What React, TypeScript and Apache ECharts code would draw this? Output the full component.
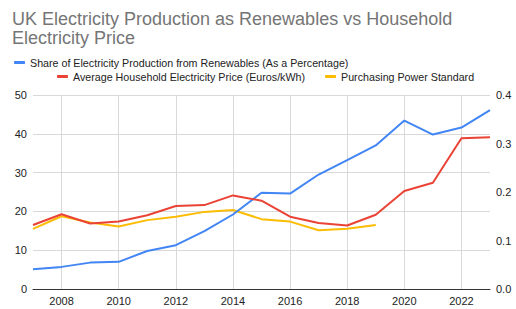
import React, { useEffect, useRef } from "react";
import * as echarts from "echarts";

const years = ["2007","2008","2009","2010","2011","2012","2013","2014","2015","2016","2017","2018","2019","2020","2021","2022","2023"];
const renewables = [5.1, 5.7, 6.8, 7.0, 9.8, 11.3, 14.9, 19.2, 24.8, 24.6, 29.5, 33.2, 37.0, 43.4, 39.8, 41.6, 46.1];
const price = [0.132, 0.154, 0.135, 0.139, 0.152, 0.171, 0.173, 0.193, 0.182, 0.149, 0.136, 0.131, 0.153, 0.202, 0.219, 0.311, 0.313];
const pps = [0.124, 0.150, 0.137, 0.129, 0.142, 0.149, 0.159, 0.163, 0.144, 0.139, 0.121, 0.124, 0.132, null, null, null, null];

const nameBlue = "Share of Electricity Production from Renewables (As a Percentage)";
const nameRed = "Average Household Electricity Price (Euros/kWh)";
const nameYellow = "Purchasing Power Standard";

export default function App() {
  const ref = useRef<HTMLDivElement>(null);
  useEffect(() => {
    const chart = echarts.init(ref.current!, null, { renderer: "svg" });
    const font = "Arial, 'Liberation Sans', sans-serif";
    const even = (_i: number, v: string) => Number(v) % 2 === 0;
    chart.setOption({
      animation: false,
      textStyle: { fontFamily: font },
      title: {
        text: "UK Electricity Production as Renewables vs Household\nElectricity Price",
        left: 7,
        top: 4,
        textStyle: { fontSize: 18, fontWeight: "normal", color: "#757575", lineHeight: 19, fontFamily: font },
      },
      legend: [
        {
          data: [nameBlue],
          left: 9,
          top: 52,
          icon: "roundRect",
          itemWidth: 11,
          itemHeight: 3,
          itemGap: 10,
          textStyle: { fontSize: 10.7, color: "#222", fontFamily: font },
        },
        {
          data: [nameRed, nameYellow],
          left: 52,
          top: 66,
          icon: "roundRect",
          itemWidth: 11,
          itemHeight: 3,
          itemGap: 20,
          textStyle: { fontSize: 10.7, color: "#222", fontFamily: font },
        },
      ],
      grid: { left: 33, right: 26, top: 95, bottom: 20, containLabel: false },
      xAxis: {
        type: "category",
        data: years,
        boundaryGap: false,
        axisTick: { show: false },
        axisLine: { lineStyle: { color: "#333", width: 1 } },
        axisLabel: { interval: even, color: "#222", fontSize: 11, margin: 6 },
        splitLine: { show: true, interval: even, lineStyle: { color: "#d9d9d9" } },
      },
      yAxis: [
        {
          type: "value",
          min: 0,
          max: 50,
          interval: 10,
          axisLine: { show: false },
          axisTick: { show: false },
          axisLabel: { color: "#222", fontSize: 11, margin: 6 },
          splitLine: { lineStyle: { color: "#d9d9d9" } },
        },
        {
          type: "value",
          min: 0,
          max: 0.4,
          interval: 0.1,
          axisLine: { show: false },
          axisTick: { show: false },
          axisLabel: { color: "#222", fontSize: 11, margin: 6, formatter: (v: number) => v.toFixed(1) },
          splitLine: { show: false },
        },
      ],
      series: [
        {
          name: nameBlue,
          type: "line",
          data: renewables,
          yAxisIndex: 0,
          showSymbol: false,
          symbol: "none",
          color: "#4285F4",
          lineStyle: { width: 2 },
          z: 3,
        },
        {
          name: nameRed,
          type: "line",
          data: price,
          yAxisIndex: 1,
          showSymbol: false,
          symbol: "none",
          color: "#EA4335",
          lineStyle: { width: 2 },
          z: 4,
        },
        {
          name: nameYellow,
          type: "line",
          data: pps,
          yAxisIndex: 1,
          showSymbol: false,
          symbol: "none",
          color: "#FBBC04",
          lineStyle: { width: 2 },
          z: 2,
        },
      ],
    });
    return () => chart.dispose();
  }, []);
  return <div ref={ref} style={{ position: "absolute", left: 0, top: 0, width: 516, height: 309 }} />;
}
